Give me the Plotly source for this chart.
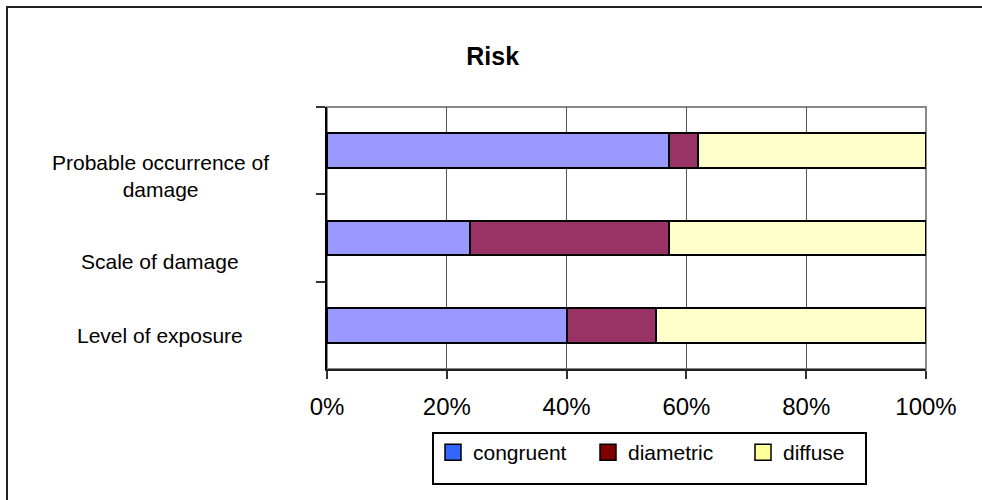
import plotly.graph_objects as go

# Risk profile: share of responses per criterion (percent)
categories = ["Probable occurrence of damage", "Scale of damage", "Level of exposure"]
category_labels = ["Probable occurrence of<br>damage", "Scale of damage", "Level of exposure"]
series_names = ["congruent", "diametric", "diffuse"]
congruent = [57.1, 23.8, 40.0]
diametric = [4.8, 33.3, 15.0]
diffuse = [38.1, 42.9, 45.0]
x_ticks = [0, 20, 40, 60, 80, 100]
x_tick_labels = ["0%", "20%", "40%", "60%", "80%", "100%"]

bar_colors = ["#9999FF", "#993366", "#FFFFCC"]
legend_colors = ["#3366FF", "#800000", "#FFFF99"]

FONT = "Liberation Sans, Arial, sans-serif"

# page geometry (pixels)
W, H = 982, 500
L, R, T, B = 327, 56, 107, 131
PW, PH = W - L - R, H - T - B


def px_x(x):
    return (x - L) / PW


def px_y(y):
    return (H - B - y) / PH


fig = go.Figure()

for name, vals, col in zip(series_names, [congruent, diametric, diffuse], bar_colors):
    fig.add_trace(go.Bar(
        name=name, x=vals, y=categories, orientation="h",
        marker=dict(color=col, line=dict(color="#000000", width=2)),
        width=0.4, showlegend=False, hoverinfo="x+name",
    ))

# legend entries
for name, col in zip(series_names, legend_colors):
    fig.add_trace(go.Scatter(
        name=name, x=[None], y=[None], mode="markers",
        marker=dict(symbol="square", size=16, color=col,
                    line=dict(color="#000000", width=1.5)),
        showlegend=True,
    ))

# category labels, centred in the left margin
label_shift = [-25, -23, -10]
annotations = []
for cat, lab, sh in zip(categories, category_labels, label_shift):
    annotations.append(dict(
        x=px_x(160), xref="paper", y=cat, yref="y", yshift=sh,
        text=lab, showarrow=False, xanchor="center", yanchor="middle",
        align="center", font=dict(family=FONT, size=21, color="#000000"),
    ))

shapes = [
    # plot area frame
    dict(type="rect", xref="paper", yref="paper", x0=0, x1=1, y0=0, y1=1,
         line=dict(color="#888888", width=2), layer="below"),
    # chart area border (top and left edges) as thin filled strips
    dict(type="rect", xref="paper", yref="paper",
         x0=px_x(6), x1=px_x(982), y0=px_y(8), y1=px_y(6),
         line=dict(width=0), fillcolor="#222222"),
    dict(type="rect", xref="paper", yref="paper",
         x0=px_x(6), x1=px_x(8), y0=px_y(500), y1=px_y(6),
         line=dict(width=0), fillcolor="#222222"),
    # legend frame
    dict(type="rect", xref="paper", yref="paper",
         x0=px_x(433), x1=px_x(866), y0=px_y(484), y1=px_y(433),
         line=dict(color="#000000", width=2), fillcolor="rgba(0,0,0,0)"),
]

fig.update_layout(
    width=W, height=H,
    margin=dict(l=L, r=R, t=T, b=B, pad=0),
    paper_bgcolor="#FFFFFF", plot_bgcolor="#FFFFFF",
    barmode="stack", bargap=0.6,
    font=dict(family=FONT, color="#000000"),
    title=dict(text="<b>Risk</b>", x=0.5017, xref="container", xanchor="center",
               y=1 - 56 / H, yref="container", yanchor="middle",
               font=dict(family=FONT, size=25, color="#000000")),
    xaxis=dict(range=[0, 100], tickvals=x_ticks, ticktext=x_tick_labels,
               showline=True, linecolor="#222222", linewidth=2,
               ticks="outside", ticklen=8, tickcolor="#333333", tickwidth=1.5,
               showgrid=True, gridcolor="#555555", gridwidth=1, zeroline=False,
               tickfont=dict(family=FONT, size=24, color="#000000"),
               ticklabelstandoff=7, fixedrange=True),
    yaxis=dict(type="category", categoryorder="array", categoryarray=categories,
               range=[2.5, -0.5], showticklabels=False,
               showline=True, linecolor="#000000", linewidth=2,
               ticks="outside", tickson="boundaries", ticklen=9,
               tickcolor="#333333", tickwidth=1.5, showgrid=False, zeroline=False,
               fixedrange=True),
    legend=dict(orientation="h", x=px_x(433), xanchor="left",
                y=px_y(432), yanchor="top", entrywidth=110,
                traceorder="normal",
                bgcolor="rgba(0,0,0,0)", borderwidth=0,
                font=dict(family=FONT, size=21, color="#000000")),
    annotations=annotations,
    shapes=shapes,
)

fig.write_html(
    "out.html",
    config=dict(displayModeBar=False),
    post_script="document.body.style.margin='0';document.body.style.overflow='hidden';",
)
